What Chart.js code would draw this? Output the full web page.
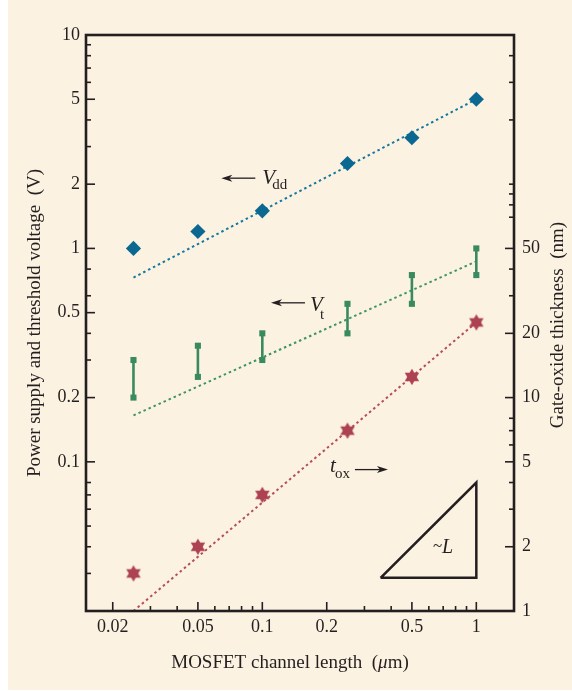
<!DOCTYPE html>
<html><head><meta charset="utf-8">
<script src="https://cdn.jsdelivr.net/npm/chart.js@4.4.0/dist/chart.umd.min.js"></script>
<style>html,body{margin:0;padding:0;background:#fff;} canvas{display:block;}</style>
</head><body>
<canvas id="c" width="572" height="691"></canvas>
<script>
// ---- data ----
const channelLength = [0.025, 0.05, 0.1, 0.25, 0.5, 1];   // µm
const vdd    = [1.0, 1.2, 1.5, 2.5, 3.3, 5.0];             // V
const vtHigh = [0.3, 0.35, 0.4, 0.55, 0.75, 1.0];          // V
const vtLow  = [0.2, 0.25, 0.3, 0.4, 0.55, 0.75];          // V
const tox    = [1.5, 2.0, 3.5, 7.0, 12.5, 22.5];           // nm
const trendX   = [0.025, 1];
const vddTrend = [0.73, 5.0];
const vtTrend  = [0.165, 0.87];
const toxTrend = [1.0, 22.5];
const slopeX = [0.357, 1, 1, 0.357];
const slopeY = [1.43, 1.43, 4.0, 1.43];
const xTicks  = [0.02,0.03,0.04,0.05,0.06,0.07,0.08,0.09,0.1,0.2,0.3,0.4,0.5,0.6,0.7,0.8,0.9,1];
const xLabels = ['0.02','0.05','0.1','0.2','0.5','1'];
const yTicks  = [0.03,0.04,0.05,0.06,0.07,0.08,0.1,0.2,0.3,0.4,0.5,0.6,0.8,1,2,3,4,5,6,7,8,9,10];
const yLabels = ['0.1','0.2','0.5','1','2','5','10'];
const y2Ticks  = [1,2,3,4,5,6,7,8,10,20,30,40,50,70,80,90,100,200,300,400];
const y2Labels = ['1','2','5','10','20','50'];

const INK = '#231f20', BLUE = '#0b6890', GREEN = '#3a8a60', RED = '#ad4252';
const SERIF = '"Liberation Serif", "DejaVu Serif", serif';
const TICK_SIZE = 18, TITLE_SIZE = 19;

function labelFor(v, labels) {
  const l = labels.find(s => Math.abs(Math.log10(parseFloat(s) / v)) < 1e-6);
  return l === undefined ? '' : l;
}
function pts(xs, ys) { return xs.map((x, i) => ({x, y: ys[i]})); }

// hexagram marker
const star = document.createElement('canvas');
star.width = 18; star.height = 18;
(function () {
  const c = star.getContext('2d'), R = 8.3, cx = 9, cy = 9;
  c.fillStyle = RED;
  [-90, 90].forEach(a0 => {
    c.beginPath();
    for (let k = 0; k < 3; k++) {
      const a = (a0 + k * 120) * Math.PI / 180;
      const px = cx + R * Math.cos(a), py = cy + R * Math.sin(a);
      k ? c.lineTo(px, py) : c.moveTo(px, py);
    }
    c.closePath(); c.fill();
  });
})();

// Vt bars: pairs separated by gaps
const vtBars = [];
channelLength.forEach((x, i) => {
  vtBars.push({x, y: vtLow[i]}, {x, y: vtHigh[i]}, {x, y: null});
});

const deco = {
  id: 'deco',
  beforeDraw(chart) {
    const {ctx, width, height} = chart;
    ctx.save();
    ctx.fillStyle = '#ffffff'; ctx.fillRect(0, 0, width, height);
    ctx.fillStyle = '#fcf2e1'; ctx.fillRect(8, 0, width - 8, height - 1);
    ctx.restore();
  },
  afterDatasetsDraw(chart) {
    const {ctx, chartArea: ca, scales} = chart;
    const sx = scales.x, sy = scales.y, sy2 = scales.y2;
    ctx.save();
    ctx.strokeStyle = INK; ctx.fillStyle = INK;
    // tick marks pointing inward
    ctx.lineWidth = 1.6;
    sx.ticks.forEach(t => {
      const p = sx.getPixelForValue(t.value), len = labelFor(t.value, xLabels) ? 9 : 5;
      ctx.beginPath(); ctx.moveTo(p, ca.bottom); ctx.lineTo(p, ca.bottom - len); ctx.stroke();
    });
    sy.ticks.forEach(t => {
      const p = sy.getPixelForValue(t.value), len = labelFor(t.value, yLabels) ? 9 : 5;
      ctx.beginPath(); ctx.moveTo(ca.left, p); ctx.lineTo(ca.left + len, p); ctx.stroke();
    });
    sy2.ticks.forEach(t => {
      const p = sy2.getPixelForValue(t.value), len = labelFor(t.value, y2Labels) ? 9 : 5;
      ctx.beginPath(); ctx.moveTo(ca.right, p); ctx.lineTo(ca.right - len, p); ctx.stroke();
    });
    // frame
    ctx.lineWidth = 2.6;
    ctx.strokeRect(ca.left, ca.top, ca.right - ca.left, ca.bottom - ca.top);

    function arrow(xTail, xTip, y) {
      const dir = Math.sign(xTip - xTail);
      ctx.lineWidth = 1.3;
      ctx.beginPath(); ctx.moveTo(xTail, y); ctx.lineTo(xTip - dir * 8, y); ctx.stroke();
      ctx.beginPath(); ctx.moveTo(xTip, y); ctx.lineTo(xTip - dir * 11, y - 3.5);
      ctx.lineTo(xTip - dir * 8, y); ctx.lineTo(xTip - dir * 11, y + 3.5); ctx.closePath(); ctx.fill();
    }
    ctx.textBaseline = 'alphabetic'; ctx.textAlign = 'left';
    // V_dd label
    let ax = sx.getPixelForValue(0.1), ay = sy.getPixelForValue(2.0);
    arrow(ax - 7, ax - 41, ay - 6);
    ctx.font = 'italic 21px ' + SERIF; ctx.fillText('V', ax, ay);
    ctx.font = '15px ' + SERIF; ctx.fillText('dd', ax + 10, ay + 5);
    // V_t label
    ax = sx.getPixelForValue(0.167); ay = sy.getPixelForValue(0.51);
    arrow(ax - 5, ax - 39, ay - 8);
    ctx.font = 'italic 21px ' + SERIF; ctx.fillText('V', ax, ay);
    ctx.font = '15px ' + SERIF; ctx.fillText('t', ax + 10, ay + 8);
    // t_ox label
    ax = sx.getPixelForValue(0.207); ay = sy2.getPixelForValue(4.5);
    ctx.font = 'italic 21px ' + SERIF; ctx.fillText('t', ax, ay);
    ctx.font = '15px ' + SERIF; ctx.fillText('ox', ax + 5, ay + 6);
    arrow(ax + 25, ax + 58, ay - 2);
    // ~L label
    ax = sx.getPixelForValue(0.627); ay = sy2.getPixelForValue(1.87);
    ctx.font = '17px ' + SERIF; ctx.fillText('~', ax, ay - 2);
    ctx.font = 'italic 20px ' + SERIF; ctx.fillText('L', ax + 9, ay);
    // x axis title with italic mu
    const F = TITLE_SIZE + 'px ' + SERIF, FI = 'italic ' + F;
    ctx.font = F;
    const a = 'MOSFET channel length  (', m = 'μ', b = 'm)';
    const wa = ctx.measureText(a).width, wb = ctx.measureText(b).width;
    ctx.font = FI; const wm = ctx.measureText(m).width;
    let tx = (ca.left + ca.right) / 2 - 10 - (wa + wm + wb) / 2, ty = 668;
    ctx.font = F; ctx.fillText(a, tx, ty);
    ctx.font = FI; ctx.fillText(m, tx + wa, ty);
    ctx.font = F; ctx.fillText(b, tx + wa + wm, ty);
    // right axis title, reading bottom to top
    ctx.translate(ca.right + 44, (ca.top + ca.bottom) / 2 + 2);
    ctx.rotate(-Math.PI / 2);
    ctx.textAlign = 'center'; ctx.textBaseline = 'middle';
    ctx.font = F;
    ctx.fillText('Gate-oxide thickness  (nm)', 0, 0);
    ctx.restore();
  }
};

const dotted = (color) => ({borderColor: color, borderWidth: 2, borderDash: [2.5, 3], pointRadius: 0, showLine: true, fill: false, order: 2});

new Chart(document.getElementById('c'), {
  type: 'scatter',
  data: {
    datasets: [
      Object.assign({label: 'Vdd trend', data: pts(trendX, vddTrend), yAxisID: 'y'}, dotted('#1477a0')),
      Object.assign({label: 'Vt trend', data: pts(trendX, vtTrend), yAxisID: 'y'}, dotted('#3d9463')),
      Object.assign({label: 'tox trend', data: pts(trendX, toxTrend), yAxisID: 'y2'}, dotted('#b44d5c')),
      {label: '~L', data: pts(slopeX, slopeY), yAxisID: 'y2', showLine: true, borderColor: INK,
       borderWidth: 2.5, pointRadius: 0, order: 2},
      {label: 'Vdd', data: pts(channelLength, vdd), yAxisID: 'y', pointStyle: 'rectRot',
       pointRadius: 7.6, backgroundColor: BLUE, borderColor: BLUE, borderWidth: 0, order: 0},
      {label: 'Vt', data: vtBars, yAxisID: 'y', showLine: true, spanGaps: false, pointStyle: 'rect',
       pointRadius: 4.3, backgroundColor: GREEN, borderColor: GREEN, pointBorderWidth: 0,
       borderWidth: 2.6, order: 0},
      {label: 'tox', data: pts(channelLength, tox), yAxisID: 'y2', pointStyle: star,
       pointRadius: 8, order: 0}
    ]
  },
  options: {
    responsive: false, animation: false, devicePixelRatio: 1,
    layout: {padding: {top: 35, left: 0, right: 0, bottom: 0}},
    plugins: {legend: {display: false}, tooltip: {enabled: false}},
    scales: {
      x: {
        type: 'logarithmic', position: 'bottom', min: 0.015, max: 1.5,
        afterBuildTicks: s => { s.ticks = xTicks.map(v => ({value: v})); },
        afterFit: s => { s.height = 80; },
        grid: {display: false, drawTicks: false}, border: {display: false},
        ticks: {autoSkip: false, maxRotation: 0, padding: 5, color: INK,
                font: {family: SERIF, size: TICK_SIZE}, callback: v => labelFor(v, xLabels)}
      },
      y: {
        type: 'logarithmic', position: 'left', min: 0.02, max: 10,
        afterBuildTicks: s => { s.ticks = yTicks.map(v => ({value: v})); },
        afterFit: s => { s.width = 86; },
        grid: {display: false, drawTicks: false}, border: {display: false},
        title: {display: true, text: 'Power supply and threshold voltage  (V)', color: INK,
                font: {family: SERIF, size: TITLE_SIZE}, padding: {top: 24, bottom: 0}},
        ticks: {autoSkip: false, padding: 6, color: INK,
                font: {family: SERIF, size: TICK_SIZE}, callback: v => labelFor(v, yLabels)}
      },
      y2: {
        type: 'logarithmic', position: 'right', min: 1, max: 500,
        afterBuildTicks: s => { s.ticks = y2Ticks.map(v => ({value: v})); },
        afterFit: s => { s.width = 58; },
        grid: {display: false, drawTicks: false}, border: {display: false},
        ticks: {autoSkip: false, padding: 8, color: INK,
                font: {family: SERIF, size: TICK_SIZE}, callback: v => labelFor(v, y2Labels)}
      }
    }
  },
  plugins: [deco]
});
</script>
</body></html>
